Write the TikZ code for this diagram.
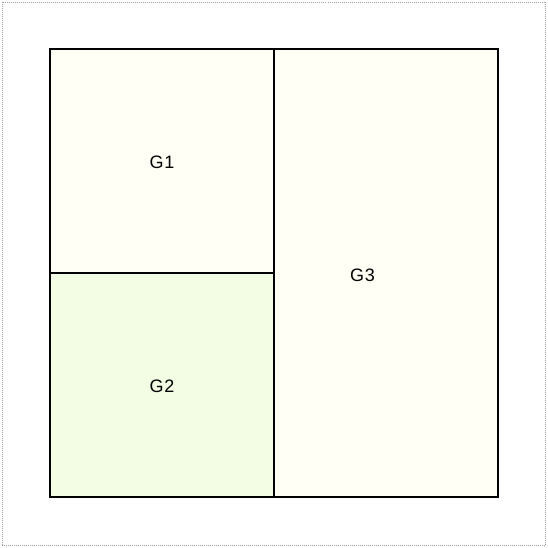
\documentclass[tikz,border=0pt]{standalone}
\usepackage{fontspec}
\setmainfont{Liberation Sans}
\definecolor{ivory}{HTML}{FFFFF5}
\definecolor{palegreen}{HTML}{F3FDE3}
\definecolor{framegray}{HTML}{A0A0A0}
\begin{document}
\begin{tikzpicture}[x=1pt,y=-1pt,
  cell/.style={draw=black,line width=2pt},
  lbl/.style={font=\fontsize{18}{21}\selectfont\addfontfeature{LetterSpace=4},inner sep=0pt,anchor=base}]
\useasboundingbox (0,0) rectangle (548,547);
\draw[framegray,densely dotted,line width=1pt] (2.5,2) rectangle (545.5,545);
\filldraw[cell,fill=ivory] (50,49) rectangle (274,273);
\filldraw[cell,fill=palegreen] (50,273) rectangle (274,497);
\filldraw[cell,fill=ivory] (274,49) rectangle (498,497);
\node[lbl] (g1) at (162,168.3) {G1};
\node[lbl] (g2) at (162,392.3) {G2};
\node[lbl] (g3) at (362.5,281.3) {G3};
\end{tikzpicture}
\end{document}
